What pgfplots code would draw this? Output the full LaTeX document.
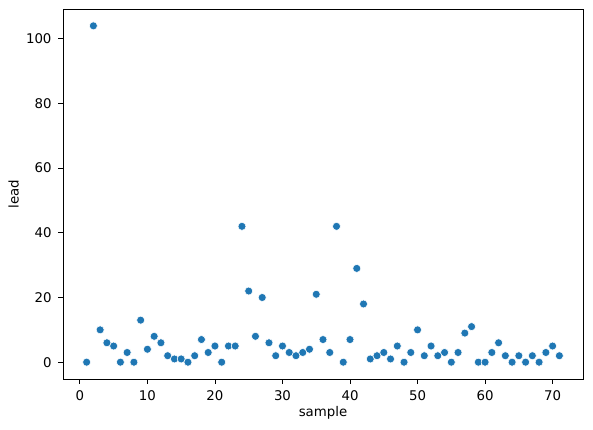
\documentclass[border=0pt]{standalone}
\usepackage{fontspec}
\setmainfont{DejaVu Sans}
\usepackage{pgfplots}
\pgfplotsset{compat=1.18}
\definecolor{tabblue}{HTML}{1F77B4}
\begin{document}
\begin{tikzpicture}
\begin{axis}[
    width=390pt, height=277.5pt,
    scale only axis,
    xmin=-2.5, xmax=74.5,
    ymin=-5.2, ymax=109.2,
    xtick={0,10,...,70},
    ytick={0,20,...,100},
    xlabel={sample},
    ylabel={lead},
    tick align=outside,
    tick pos=left,
    major tick length=3.6pt,
    tick style={black, line width=0.6pt},
    axis line style={line width=0.6pt},
    /pgf/number format/assume math mode=true,
    ticklabel style={font=\fontsize{10}{12}\selectfont},
    label style={font=\fontsize{10}{12}\selectfont},
    xticklabel style={yshift=-1.2pt},
    yticklabel style={xshift=-1.5pt},
    xlabel style={at={(axis description cs:0.5,-0.092)}, anchor=center},
    ylabel style={at={(axis description cs:-0.095,0.5)}, anchor=center},
    clip=false,
]
\addplot[only marks, mark=*, mark size=3pt,
    mark options={fill=tabblue, draw=white, line width=0.4pt}]
coordinates {
(1,0) (2,104) (3,10) (4,6) (5,5) (6,0) (7,3) (8,0) (9,13) (10,4)
(11,8) (12,6) (13,2) (14,1) (15,1) (16,0) (17,2) (18,7) (19,3) (20,5)
(21,0) (22,5) (23,5) (24,42) (25,22) (26,8) (27,20) (28,6) (29,2) (30,5)
(31,3) (32,2) (33,3) (34,4) (35,21) (36,7) (37,3) (38,42) (39,0) (40,7)
(41,29) (42,18) (43,1) (44,2) (45,3) (46,1) (47,5) (48,0) (49,3) (50,10)
(51,2) (52,5) (53,2) (54,3) (55,0) (56,3) (57,9) (58,11) (59,0) (60,0)
(61,3) (62,6) (63,2) (64,0) (65,2) (66,0) (67,2) (68,0) (69,3) (70,5)
(71,2)
};
\end{axis}
\pgfresetboundingbox
\path ([xshift=-47.25pt,yshift=-37.5pt]current axis.south west)
  rectangle ([xshift=7.5pt,yshift=6.75pt]current axis.north east);
\end{tikzpicture}
\end{document}
